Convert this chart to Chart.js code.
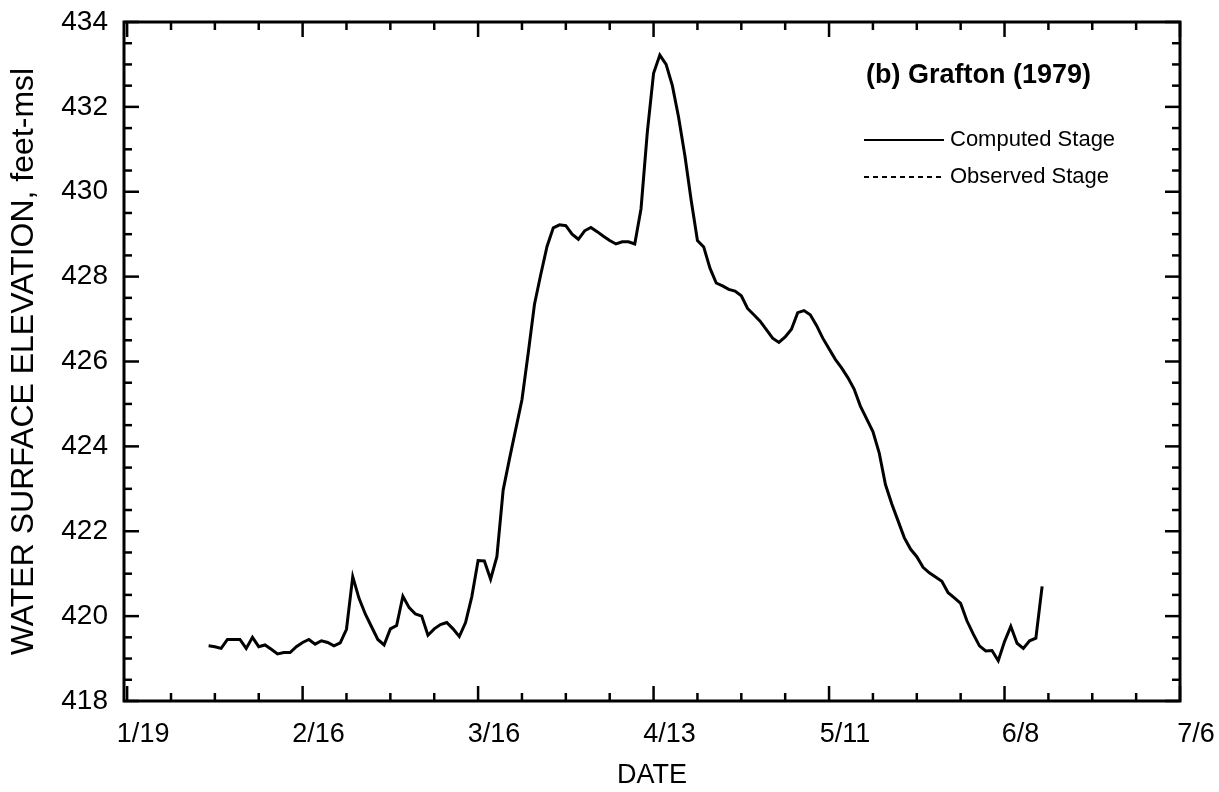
<!DOCTYPE html>
<html>
<head>
<meta charset="utf-8">
<script src="https://cdn.jsdelivr.net/npm/chart.js@4.4.1/dist/chart.umd.min.js"></script>
<style>
  html, body { margin: 0; padding: 0; background: #fff; }
  #wrap { width: 1219px; height: 792px; }
</style>
</head>
<body>
<div id="wrap"><canvas id="myChart" width="1219" height="792"></canvas></div>
<script>
// x values are days after 1/19 (1979)
const days = [13, 14, 15, 16, 17, 18, 19, 20, 21, 22, 23, 24, 25, 26, 27, 28, 29, 30, 31, 32,
  33, 34, 35, 36, 37, 38, 39, 40, 41, 42, 43, 44, 45, 46, 47, 48, 49, 50, 51, 52,
  53, 54, 55, 56, 57, 58, 59, 60, 61, 62, 63, 64, 65, 66, 67, 68, 69, 70, 71, 72,
  73, 74, 75, 76, 77, 78, 79, 80, 81, 82, 83, 84, 85, 86, 87, 88, 89, 90, 91, 92,
  93, 94, 95, 96, 97, 98, 99, 100, 101, 102, 103, 104, 105, 106, 107, 108, 109, 110, 111, 112,
  113, 114, 115, 116, 117, 118, 119, 120, 121, 122, 123, 124, 125, 126, 127, 128, 129, 130, 131, 132,
  133, 134, 135, 136, 137, 138, 139, 140, 141, 142, 143, 144, 145, 146];

// water surface elevation, feet-msl
const computedStage = [419.30, 419.28, 419.24, 419.45, 419.45, 419.45, 419.24, 419.50, 419.28, 419.32,
  419.22, 419.11, 419.14, 419.14, 419.28, 419.38, 419.45, 419.34, 419.42, 419.38,
  419.30, 419.37, 419.69, 420.93, 420.42, 420.05, 419.75, 419.45, 419.32, 419.70,
  419.78, 420.47, 420.20, 420.05, 420.00, 419.55, 419.70, 419.80, 419.85, 419.70,
  419.52, 419.85, 420.46, 421.31, 421.30, 420.87, 421.40, 422.97, 423.70, 424.40,
  425.10, 426.20, 427.35, 428.05, 428.71, 429.15, 429.22, 429.20, 429.00, 428.88,
  429.08, 429.16, 429.06, 428.95, 428.85, 428.77, 428.82, 428.82, 428.77, 429.60,
  431.40, 432.79, 433.22, 433.00, 432.50, 431.75, 430.85, 429.80, 428.85, 428.70,
  428.20, 427.85, 427.78, 427.70, 427.66, 427.55, 427.25, 427.10, 426.95, 426.75,
  426.55, 426.45, 426.58, 426.76, 427.15, 427.20, 427.10, 426.85, 426.55, 426.30,
  426.05, 425.85, 425.62, 425.35, 424.95, 424.65, 424.35, 423.85, 423.10, 422.65,
  422.25, 421.85, 421.58, 421.40, 421.15, 421.02, 420.92, 420.82, 420.55, 420.43,
  420.30, 419.89, 419.58, 419.30, 419.18, 419.19, 418.95, 419.40, 419.76, 419.36,
  419.24, 419.42, 419.48, 420.70];

// no dashed trace is visible in the figure
const observedStage = [];

const dateLabels = ["1/19", "2/16", "3/16", "4/13", "5/11", "6/8", "7/6"];
const yTickLabels = [418, 420, 422, 424, 426, 428, 430, 432, 434];

const FONT = "'Liberation Sans', Arial, Helvetica, sans-serif";

// inward ticks on all four sides + frame
const frameTicks = {
  id: "frameTicks",
  afterDraw(chart) {
    const { ctx, chartArea: a, scales } = chart;
    ctx.save();
    ctx.strokeStyle = "#000";
    ctx.lineWidth = 2.5;
    const seg = (x1, y1, x2, y2) => {
      ctx.beginPath();
      ctx.moveTo(x1, y1);
      ctx.lineTo(x2, y2);
      ctx.stroke();
    };
    scales.x.ticks.forEach((t) => {
      const px = scales.x.getPixelForValue(t.value);
      const len = t.value % 28 === 0 ? 15 : 8;
      seg(px, a.bottom, px, a.bottom - len);
      seg(px, a.top, px, a.top + len);
    });
    scales.y.ticks.forEach((t) => {
      const py = scales.y.getPixelForValue(t.value);
      const len = yTickLabels.includes(t.value) ? 15 : 8;
      seg(a.left, py, a.left + len, py);
      seg(a.right, py, a.right - len, py);
    });
    ctx.lineWidth = 3;
    ctx.strokeRect(a.left, a.top, a.right - a.left, a.bottom - a.top);
    ctx.restore();
  },
};

// title + legend inside the plot, top right
const insideLegend = {
  id: "insideLegend",
  afterDraw(chart) {
    const { ctx, chartArea: a } = chart;
    const x0 = a.right - 316;
    ctx.save();
    ctx.fillStyle = "#000";
    ctx.textBaseline = "middle";
    ctx.font = "bold 27px " + FONT;
    ctx.fillText("(b) Grafton (1979)", x0 + 2, a.top + 54);
    ctx.font = "22px " + FONT;
    chart.data.datasets.forEach((ds, i) => {
      const y = a.top + 118 + i * 37;
      ctx.strokeStyle = ds.borderColor;
      ctx.lineWidth = 2;
      ctx.setLineDash(ds.borderDash || []);
      ctx.beginPath();
      ctx.moveTo(x0, y);
      ctx.lineTo(x0 + 80, y);
      ctx.stroke();
      ctx.setLineDash([]);
      ctx.fillText(ds.label, x0 + 86, y);
    });
    ctx.restore();
  },
};

const ctx = document.getElementById("myChart").getContext("2d");
const myChart = new Chart(ctx, {
  type: "line",
  data: {
    datasets: [
      {
        label: "Computed Stage",
        data: days.map((d, i) => ({ x: d, y: computedStage[i] })),
        borderColor: "#000",
        borderWidth: 3,
        pointRadius: 0,
        tension: 0,
      },
      {
        label: "Observed Stage",
        data: observedStage,
        borderColor: "#000",
        borderWidth: 2,
        borderDash: [5, 4],
        pointRadius: 0,
      },
    ],
  },
  options: {
    responsive: false,
    animation: false,
    layout: { padding: { left: 0, top: 22, right: 39, bottom: 0 } },
    plugins: {
      legend: { display: false },
      tooltip: { enabled: false },
    },
    scales: {
      x: {
        type: "linear",
        min: -0.5,
        max: 168,
        afterFit: (s) => {
          s.height = 91;
          s.paddingLeft = 0;
          s.paddingRight = 0;
        },
        afterBuildTicks: (s) => {
          s.ticks = [];
          for (let v = 0; v <= 168; v += 7) s.ticks.push({ value: v });
        },
        grid: { display: false, drawTicks: false },
        border: { display: false },
        ticks: {
          autoSkip: false,
          maxRotation: 0,
          padding: 17,
          labelOffset: 16,
          color: "#000",
          font: { family: FONT, size: 27 },
          callback: (v) => (v % 28 === 0 ? dateLabels[v / 28] : ""),
        },
        title: {
          display: true,
          text: "DATE",
          color: "#000",
          font: { family: FONT, size: 27 },
          padding: { top: 0, bottom: 0 },
        },
      },
      y: {
        min: 418,
        max: 434,
        afterFit: (s) => {
          s.width = 124;
          s.paddingTop = 0;
          s.paddingBottom = 0;
        },
        grid: { display: false, drawTicks: false },
        border: { display: false },
        ticks: {
          stepSize: 0.5,
          autoSkip: false,
          padding: 16,
          color: "#000",
          font: { family: FONT, size: 28 },
          callback: (v) => (yTickLabels.includes(v) ? String(v) : ""),
        },
        title: {
          display: true,
          text: "WATER SURFACE ELEVATION, feet-msl",
          color: "#000",
          font: { family: FONT, size: 32 },
          padding: { top: 5, bottom: 4 },
        },
      },
    },
  },
  plugins: [frameTicks, insideLegend],
});
</script>
</body>
</html>
